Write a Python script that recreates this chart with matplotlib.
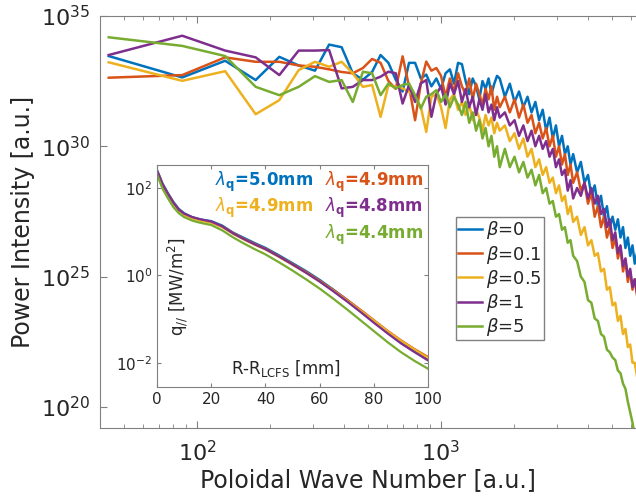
import numpy as np
import matplotlib.pyplot as plt
from matplotlib.ticker import NullLocator, FixedLocator

plt.rcParams['font.family'] = 'DejaVu Sans'
plt.rcParams['mathtext.fontset'] = 'dejavusans'

# ---- spectrum data: harmonics of the fundamental poloidal wave number ----
k0 = 43.5
n_harm = list(range(1, 41)) + list(range(42, 81, 2)) + list(range(83, 147, 3))

# log10 of power intensity for each beta
logP_b0 = [33.46, 32.64, 33.28, 32.54, 33.43, 33.1, 32.9, 33.9, 33.8, 32.8,
           32.55, 32.85, 33.5, 33.2, 32.55, 32.1, 33.2, 33.2, 32.6, 32.75,
           32.3, 32.6, 32.2, 32.8, 32.95, 32.4, 33.2, 33.15, 32.5, 32.0,
           32.6, 32.3, 31.8, 32.5, 32.2, 32.6, 32.0, 32.4, 32.7, 32.6,
           31.9, 32.4, 31.7, 32.1, 31.5, 31.9, 31.3, 31.7, 31.0, 31.4,
           30.6, 31.1, 30.3, 30.8, 30.0, 30.4, 29.7, 30.0, 29.3, 29.7,
           29.0, 29.4, 28.6, 28.9, 28.1, 28.5, 27.7, 28.1, 27.3, 27.7,
           26.9, 27.3, 26.8, 27.2, 26.5, 26.9, 26.1, 26.5, 25.8, 26.2,
           25.5, 25.9]
logP_b01 = [32.63, 32.73, 33.41, 33.24, 33.24, 33.1, 33.05, 32.95, 32.85, 32.8,
            33.0, 33.35, 33.2, 32.5, 32.2, 33.45, 32.3, 31.0, 32.4, 33.25,
            32.9, 33.0, 32.7, 31.9, 32.6, 32.1, 32.8, 32.3, 32.0, 32.6,
            31.8, 32.4, 32.0, 31.6, 32.2, 31.8, 32.3, 31.4, 31.9, 31.5,
            31.9, 31.3, 31.8, 31.1, 31.6, 30.9, 31.2, 30.5, 30.9, 30.3,
            30.7, 30.0, 30.4, 29.6, 30.0, 29.3, 29.7, 28.9, 29.3, 28.6,
            29.0, 28.3, 28.6, 27.8, 28.2, 27.3, 27.7, 26.9, 27.3, 26.5,
            26.9, 26.1, 26.5, 25.7, 26.1, 25.2, 25.6, 24.8, 25.2, 24.5,
            24.9, 24.3]
logP_b05 = [33.22, 32.51, 32.88, 31.23, 31.77, 32.92, 33.24, 33.05, 33.24, 32.8,
            32.28, 32.35, 31.13, 32.35, 32.28, 32.22, 32.09, 31.9, 31.51, 30.55,
            31.9, 32.0, 31.5, 30.7, 31.8, 32.0, 31.4, 31.7, 31.2, 31.6,
            31.0, 31.4, 31.1, 30.6, 31.2, 30.8, 31.1, 30.5, 30.9, 30.6,
            30.8, 30.2, 30.5, 29.9, 30.3, 29.6, 29.9, 29.2, 29.5, 28.9,
            29.2, 28.6, 28.8, 28.2, 28.5, 27.9, 28.1, 27.4, 27.7, 27.1,
            27.3, 26.6, 26.9, 26.2, 26.4, 25.8, 25.9, 25.2, 25.3, 24.5,
            24.6, 23.9, 24.0, 23.3, 23.5, 22.8, 23.0, 22.3, 22.4, 21.7,
            21.7, 21.2]
logP_b1 = [33.5, 34.24, 33.67, 33.41, 32.73, 33.67, 33.67, 33.69, 32.22, 32.28,
           32.54, 32.54, 32.67, 32.86, 32.8, 31.64, 32.35, 31.7, 32.41, 32.54,
           31.13, 32.0, 32.3, 31.6, 32.4, 32.0, 32.5, 31.7, 32.2, 31.5,
           31.9, 31.2, 31.8, 31.4, 32.0, 31.3, 31.6, 31.0, 31.5, 31.1,
           31.3, 30.8, 31.0, 30.4, 30.8, 30.2, 30.6, 30.0, 30.4, 29.9,
           30.2, 29.6, 29.9, 29.2, 29.5, 28.9, 29.1, 28.3, 28.7, 28.0,
           28.4, 28.1, 28.6, 28.0, 28.4, 27.8, 28.1, 27.4, 27.6, 26.9,
           27.2, 26.4, 26.7, 25.9, 26.2, 25.4, 25.7, 25.0, 25.3, 24.6,
           24.9, 24.4]
logP_b5 = [34.18, 33.85, 33.46, 32.28, 31.96, 32.28, 32.69, 32.47, 32.54, 31.7,
           32.86, 32.8, 31.96, 32.41, 32.22, 32.35, 32.41, 31.96, 31.45, 31.9,
           32.0, 32.15, 31.7, 32.0, 31.5, 31.9, 31.6, 31.2, 31.7, 30.9,
           31.3, 30.6, 31.0, 30.3, 30.7, 30.0, 30.4, 29.6, 30.0, 29.2,
           29.9, 29.2, 29.6, 29.0, 29.4, 28.8, 29.1, 28.5, 28.9, 28.2,
           28.4, 27.8, 27.9, 27.3, 27.4, 26.8, 26.9, 26.3, 26.4, 25.8,
           25.6, 25.0, 24.8, 24.1, 24.0, 23.4, 23.3, 22.8, 22.7, 22.2,
           22.1, 21.9, 21.8, 21.4, 21.3, 20.9, 20.7, 20.2, 19.8, 19.4,
           18.9, 18.4]

# ---- heat flux profiles (inset) ----
r_mm = [0, 1, 2, 4, 6, 8, 10, 13, 16, 20, 24, 28, 32, 36, 40, 45, 50, 55,
        60, 65, 70, 75, 80, 85, 90, 95, 100]
logq_b0 = [2.40, 2.25, 2.10, 1.88, 1.68, 1.52, 1.42, 1.33, 1.28, 1.24, 1.14,
           0.98, 0.86, 0.74, 0.63, 0.46, 0.28, 0.10, -0.10, -0.32, -0.55,
           -0.80, -1.05, -1.30, -1.53, -1.73, -1.92]
logq_b01 = [2.38, 2.24, 2.08, 1.86, 1.66, 1.50, 1.40, 1.32, 1.27, 1.22, 1.12,
            0.97, 0.84, 0.72, 0.61, 0.44, 0.26, 0.08, -0.12, -0.33, -0.55,
            -0.78, -1.02, -1.26, -1.48, -1.68, -1.86]
logq_b05 = [2.36, 2.22, 2.06, 1.84, 1.64, 1.48, 1.38, 1.30, 1.25, 1.20, 1.10,
            0.95, 0.82, 0.70, 0.59, 0.42, 0.24, 0.06, -0.14, -0.35, -0.57,
            -0.80, -1.03, -1.27, -1.49, -1.69, -1.88]
logq_b1 = [2.39, 2.24, 2.08, 1.86, 1.66, 1.50, 1.41, 1.33, 1.28, 1.23, 1.12,
           0.96, 0.83, 0.71, 0.60, 0.43, 0.25, 0.06, -0.14, -0.36, -0.59,
           -0.83, -1.08, -1.32, -1.55, -1.75, -1.94]
logq_b5 = [2.30, 2.14, 1.98, 1.76, 1.56, 1.42, 1.33, 1.25, 1.20, 1.15, 1.03,
           0.87, 0.73, 0.60, 0.48, 0.30, 0.11, -0.09, -0.30, -0.53, -0.77,
           -1.02, -1.27, -1.52, -1.75, -1.95, -2.13]

betas = ['0', '0.1', '0.5', '1', '5']
lambdas = ['5.0', '4.9', '4.9', '4.8', '4.4']
colors = ['#0072BD', '#D95319', '#EDB120', '#7E2F8E', '#77AC30']
spectra = [logP_b0, logP_b01, logP_b05, logP_b1, logP_b5]
profiles = [logq_b0, logq_b01, logq_b05, logq_b1, logq_b5]

axcol = '#808080'
txtcol = '#262626'

fig = plt.figure(figsize=(6.36, 4.97), dpi=100)
ax = fig.add_axes([0.157, 0.139, 0.843, 0.829])

k = k0 * np.array(n_harm)
for lp, c, b in zip(spectra, colors, betas):
    ax.plot(k, 10.0 ** np.array(lp), color=c, lw=1.8, label=r'$\beta$=' + b)

ax.set_xscale('log')
ax.set_yscale('log')
ax.set_xlim(40, 6295)
ax.set_ylim(10 ** 19.2, 1e35)
ax.yaxis.set_major_locator(FixedLocator([1e20, 1e25, 1e30, 1e35]))
ax.yaxis.set_minor_locator(NullLocator())
ax.tick_params(which='both', direction='in', top=True, right=False,
               colors=axcol, labelcolor=txtcol, labelsize=16)
ax.tick_params(which='major', length=5)
ax.tick_params(which='minor', length=3)
ax.tick_params(axis='x', which='both', pad=9)
ax.tick_params(axis='y', which='both', pad=7)
for s in ['left', 'bottom', 'top']:
    ax.spines[s].set_color(axcol)
ax.spines['right'].set_visible(False)
ax.set_xlabel('Poloidal Wave Number [a.u.]', fontsize=17, color=txtcol, labelpad=2)
ax.set_ylabel('Power Intensity [a.u.]', fontsize=17, color=txtcol, labelpad=4)

leg = ax.legend(loc='upper left', bbox_to_anchor=(0.717, 0.563),
                bbox_transform=fig.transFigure, fontsize=13, handlelength=1.3,
                handletextpad=0.25, labelspacing=0.12, borderpad=0.12,
                fancybox=False, framealpha=1, borderaxespad=0)
leg.get_frame().set_edgecolor(axcol)
leg.get_frame().set_linewidth(1.0)
for t in leg.get_texts():
    t.set_color(txtcol)

# ---- inset: parallel heat flux profiles ----
ins = fig.add_axes([0.247, 0.221, 0.426, 0.447])
for lq, c in zip(profiles, colors):
    ins.plot(r_mm, 10.0 ** np.array(lq), color=c, lw=1.6)
ins.set_yscale('log')
ins.set_xlim(0, 100)
ins.set_ylim(10 ** -2.55, 10 ** 2.52)
ins.set_xticks([0, 20, 40, 60, 80, 100])
ins.yaxis.set_major_locator(FixedLocator([1e-2, 1e0, 1e2]))
ins.yaxis.set_minor_locator(NullLocator())
ins.tick_params(which='both', direction='in', top=True, right=True,
                colors=axcol, labelcolor=txtcol, labelsize=11, length=3)
for s in ins.spines.values():
    s.set_color(axcol)

ins.text(0.075, 0.45, r'q$_{//}$ [MW/m$^2$]', rotation=90, transform=ins.transAxes,
         ha='center', va='center', fontsize=12, color=txtcol)
ins.text(0.476, 0.085, r'R-R$_{\rm LCFS}$ [mm]', transform=ins.transAxes,
         ha='center', va='center', fontsize=12, color=txtcol)

lam_pos = [(0.576, 0.923), (0.982, 0.923), (0.576, 0.806), (0.982, 0.806), (0.982, 0.685)]
for (tx, ty), lam, c in zip(lam_pos, lambdas, colors):
    ins.text(tx, ty, r'$\lambda_{\mathbf{q}}$=' + lam + 'mm', transform=ins.transAxes,
             ha='right', va='center', fontsize=12, fontweight='bold', color=c)

fig.savefig('out.png', dpi=100)
